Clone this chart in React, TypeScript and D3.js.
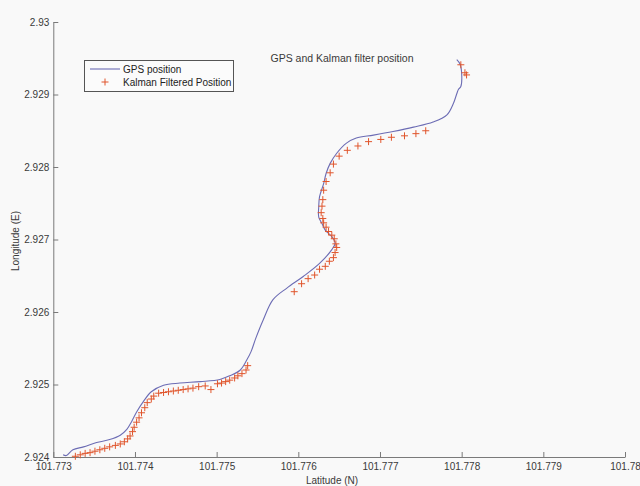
import * as d3 from 'd3';
import React, { useRef, useEffect } from 'react';

// GPS track (lat, lon)
const gpsLat = [101.77312, 101.77316, 101.77324, 101.77337, 101.77353, 101.77369, 101.77382, 101.77390, 101.77396, 101.77402,
  101.77410, 101.77420, 101.77435, 101.77455, 101.77480, 101.77504, 101.77516, 101.77529, 101.77537, 101.77542,
  101.77548, 101.77557, 101.77569, 101.77586, 101.77606, 101.77626, 101.77641, 101.77645, 101.77641, 101.77633,
  101.77629, 101.77625, 101.77625, 101.77626, 101.77631, 101.77634, 101.77639, 101.77647, 101.77659, 101.77671,
  101.77692, 101.77716, 101.77741, 101.77765, 101.77782, 101.77790, 101.77794, 101.77796, 101.77799, 101.77800,
  101.77798, 101.77794];
const gpsLon = [2.92403, 2.92402, 2.92410, 2.92414, 2.92420, 2.92424, 2.92430, 2.92438, 2.92449, 2.92462,
  2.92476, 2.92490, 2.92499, 2.92502, 2.92504, 2.92507, 2.92512, 2.92520, 2.92534, 2.92545,
  2.92564, 2.92589, 2.92617, 2.92633, 2.92649, 2.92667, 2.92686, 2.92695, 2.92704, 2.92713,
  2.92722, 2.92731, 2.92745, 2.92759, 2.92777, 2.92791, 2.92805, 2.92819, 2.92833, 2.92840,
  2.92844, 2.92849, 2.92855, 2.92862, 2.92872, 2.92888, 2.92901, 2.92907, 2.92911, 2.92929,
  2.92942, 2.92948];

// Kalman filtered positions
const kalLat = [101.77327, 101.77333, 101.77339, 101.77345, 101.77351, 101.77357, 101.77363, 101.77369, 101.77376, 101.77382,
  101.77387, 101.77391, 101.77394, 101.77397, 101.77399, 101.77402, 101.77405, 101.77408, 101.77412, 101.77415,
  101.77420, 101.77423, 101.77429, 101.77435, 101.77441, 101.77447, 101.77453, 101.77459, 101.77465, 101.77471,
  101.77478, 101.77486, 101.77493, 101.77501, 101.77506, 101.77511, 101.77516, 101.77522, 101.77526, 101.77531,
  101.77536, 101.77538,
  101.77595, 101.77604, 101.77612, 101.77620, 101.77626, 101.77633, 101.77638, 101.77643, 101.77645, 101.77647,
  101.77646, 101.77644, 101.77641, 101.77637, 101.77634, 101.77631, 101.77630, 101.77628, 101.77629, 101.77630,
  101.77631, 101.77634, 101.77639, 101.77643, 101.77650, 101.77660, 101.77673, 101.77686, 101.77701, 101.77714,
  101.77730, 101.77744, 101.77756,
  101.77799, 101.77804, 101.77806];
const kalLon = [2.92401, 2.92403, 2.92405, 2.92406, 2.92408, 2.92410, 2.92412, 2.92414, 2.92416, 2.92418,
  2.92421, 2.92425, 2.92429, 2.92435, 2.92441, 2.92448, 2.92454, 2.92461, 2.92468, 2.92475,
  2.92480, 2.92484, 2.92488, 2.92489, 2.92490, 2.92491, 2.92492, 2.92493, 2.92494, 2.92495,
  2.92497, 2.92498, 2.92493, 2.92501, 2.92502, 2.92504, 2.92506, 2.92509, 2.92512, 2.92515,
  2.92520, 2.92526,
  2.92628, 2.92639, 2.92646, 2.92651, 2.92659, 2.92663, 2.92670, 2.92675, 2.92682, 2.92689,
  2.92694, 2.92701, 2.92706, 2.92711, 2.92717, 2.92723, 2.92729, 2.92737, 2.92746, 2.92755,
  2.92768, 2.92780, 2.92792, 2.92804, 2.92815, 2.92823, 2.92829, 2.92835, 2.92838, 2.92841,
  2.92843, 2.92846, 2.92850,
  2.92941, 2.92930, 2.92927];

const xTicks = [101.773, 101.774, 101.775, 101.776, 101.777, 101.778, 101.779, 101.78];
const xTickLabels = ['101.773', '101.774', '101.775', '101.776', '101.777', '101.778', '101.779', '101.78'];
const yTicks = [2.924, 2.925, 2.926, 2.927, 2.928, 2.929, 2.93];
const yTickLabels = ['2.924', '2.925', '2.926', '2.927', '2.928', '2.929', '2.93'];

const seriesNames = ['GPS position', 'Kalman Filtered Position'];
const title = 'GPS and Kalman filter position';

function App() {
  const ref = useRef(null);
  const width = 640;
  const height = 486;

  useEffect(() => {
    const svg = d3.select(ref.current);
    svg.selectAll('*').remove();

    const font = '"Liberation Sans", Arial, sans-serif';
    const axisColor = '#7a7a7a';
    const textColor = '#3a3a3a';
    const lineColor = '#6c6cb4';
    const plusColor = '#e0552c';

    const x = d3.scaleLinear().domain([101.773, 101.78]).range([53.3, 625]);
    const y = d3.scaleLinear().domain([2.924, 2.93]).range([457, 22]);

    svg.append('rect').attr('width', width).attr('height', height).attr('fill', '#f9f9f9');

    // x axis, ticks inward
    const gx = svg.append('g')
      .attr('transform', 'translate(0,' + y(2.924) + ')')
      .call(d3.axisBottom(x).tickValues(xTicks)
        .tickFormat((d, i) => xTickLabels[i])
        .tickSizeInner(-5).tickSizeOuter(0).tickPadding(6));

    // y axis
    const gy = svg.append('g')
      .attr('transform', 'translate(' + x(101.773) + ',0)')
      .call(d3.axisLeft(y).tickValues(yTicks)
        .tickFormat((d, i) => yTickLabels[i])
        .tickSizeInner(-5).tickSizeOuter(0).tickPadding(4));

    [gx, gy].forEach(g => {
      g.select('.domain').attr('stroke', axisColor);
      g.selectAll('.tick line').attr('stroke', axisColor);
      g.selectAll('.tick text').attr('fill', textColor)
        .style('font-family', font).style('font-size', '10px');
    });

    // gps line
    const gps = gpsLat.map((d, i) => [d, gpsLon[i]]);
    const line = d3.line()
      .x(d => x(d[0]))
      .y(d => y(d[1]))
      .curve(d3.curveCatmullRom.alpha(0.5));
    svg.append('path')
      .attr('d', line(gps))
      .attr('fill', 'none')
      .attr('stroke', lineColor)
      .attr('stroke-width', 1.1);

    // kalman markers
    const plus = 'M-3.5,0H3.5M0,-3.5V3.5';
    svg.append('g').selectAll('path')
      .data(kalLat.map((d, i) => [d, kalLon[i]]))
      .join('path')
      .attr('transform', d => 'translate(' + x(d[0]) + ',' + y(d[1]) + ')')
      .attr('d', plus)
      .attr('stroke', plusColor)
      .attr('stroke-width', 1)
      .attr('fill', 'none');

    // title
    svg.append('text')
      .attr('x', 342).attr('y', 62)
      .attr('text-anchor', 'middle')
      .attr('fill', textColor)
      .style('font-family', font).style('font-size', '10.5px')
      .text(title);

    // axis labels
    svg.append('text')
      .attr('x', 332).attr('y', 484)
      .attr('text-anchor', 'middle')
      .attr('fill', textColor)
      .style('font-family', font).style('font-size', '10px')
      .text('Latitude (N)');
    svg.append('text')
      .attr('transform', 'translate(19,241) rotate(-90)')
      .attr('text-anchor', 'middle')
      .attr('fill', textColor)
      .style('font-family', font).style('font-size', '10px')
      .text('Longitude (E)');

    // legend
    const lg = svg.append('g').attr('transform', 'translate(84,60)');
    lg.append('rect')
      .attr('x', 0.5).attr('y', 0.5).attr('width', 149).attr('height', 31)
      .attr('fill', '#fbfbfb').attr('stroke', '#555');
    lg.append('line')
      .attr('x1', 6).attr('x2', 36).attr('y1', 9).attr('y2', 9)
      .attr('stroke', lineColor).attr('stroke-width', 1.1);
    lg.append('path')
      .attr('transform', 'translate(21,22)')
      .attr('d', plus).attr('stroke', plusColor).attr('fill', 'none');
    lg.selectAll('text.item')
      .data(seriesNames)
      .join('text')
      .attr('class', 'item')
      .attr('x', 39).attr('y', (d, i) => 13 + i * 13)
      .attr('fill', '#222')
      .style('font-family', font).style('font-size', '10px')
      .text(d => d);
  }, []);

  return (
    <svg ref={ref} width={width} height={height}
      style={{ position: 'absolute', left: 0, top: 0, display: 'block' }}>
    </svg>
  );
}

export default App;
